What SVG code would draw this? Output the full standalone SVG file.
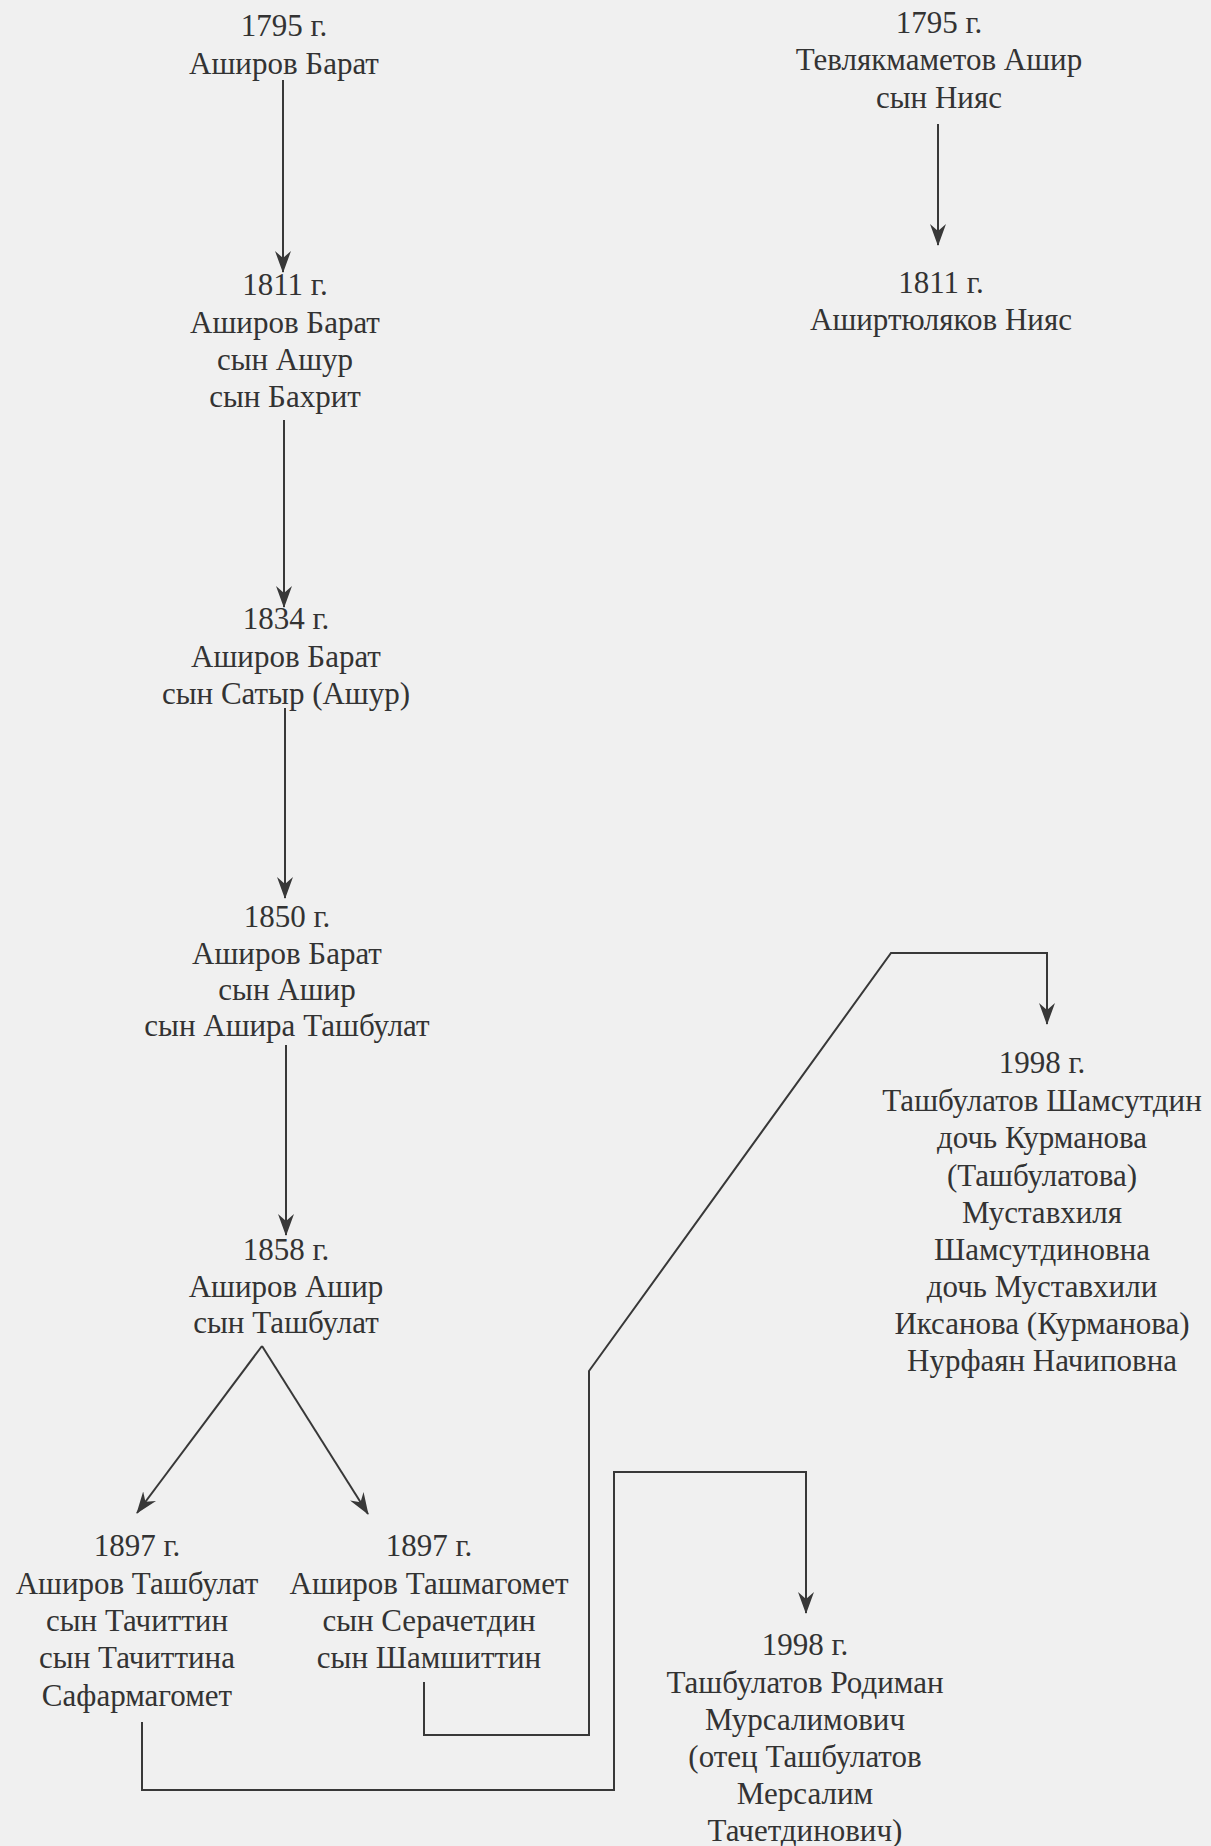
<svg xmlns="http://www.w3.org/2000/svg" width="1211" height="1846" viewBox="0 0 1211 1846">
<style>
text{font-family:"Liberation Serif","Times New Roman","DejaVu Serif",serif;font-size:31px;fill:#333;text-anchor:middle}
.c{fill:none;stroke:#383838;stroke-width:2}
</style>
<defs>
<marker id="ah" markerUnits="userSpaceOnUse" markerWidth="22" markerHeight="16" refX="21" refY="8" orient="auto">
<path d="M0,0 L22,8 L0,16 L7,8 Z" fill="#383838"/>
</marker>
</defs>
<rect width="1211" height="1846" fill="#f0f0f0"/>
<g id="connectors">
<path class="c" d="M283,80 V272" marker-end="url(#ah)"/>
<path class="c" d="M284,420 V607" marker-end="url(#ah)"/>
<path class="c" d="M285,708 V898" marker-end="url(#ah)"/>
<path class="c" d="M286,1045 V1235" marker-end="url(#ah)"/>
<path class="c" d="M262,1346 L137,1513" marker-end="url(#ah)"/>
<path class="c" d="M262,1346 L368,1514" marker-end="url(#ah)"/>
<path class="c" d="M938,124 V245" marker-end="url(#ah)"/>
<path class="c" d="M142,1722 V1790 H614 V1472 H806 V1613" marker-end="url(#ah)"/>
<path class="c" d="M424,1682 V1735 H589 V1371 L891,953 H1047 V1024" marker-end="url(#ah)"/>
</g>
<g id="n1795a"><text x="284" y="36">1795 г.</text><text x="284" y="74">Аширов Барат</text></g>
<g id="n1811a"><text x="285" y="295">1811 г.</text><text x="285" y="333">Аширов Барат</text><text x="285" y="370">сын Ашур</text><text x="285" y="407">сын Бахрит</text></g>
<g id="n1834"><text x="286" y="629">1834 г.</text><text x="286" y="667">Аширов Барат</text><text x="286" y="704">сын Сатыр (Ашур)</text></g>
<g id="n1850"><text x="287" y="927">1850 г.</text><text x="287" y="964">Аширов Барат</text><text x="287" y="1000">сын Ашир</text><text x="287" y="1036">сын Ашира Ташбулат</text></g>
<g id="n1858"><text x="286" y="1260">1858 г.</text><text x="286" y="1297">Аширов Ашир</text><text x="286" y="1333">сын Ташбулат</text></g>
<g id="n1897a"><text x="137" y="1556">1897 г.</text><text x="137" y="1594">Аширов Ташбулат</text><text x="137" y="1631">сын Тачиттин</text><text x="137" y="1668">сын Тачиттина</text><text x="137" y="1706">Сафармагомет</text></g>
<g id="n1897b"><text x="429" y="1556">1897 г.</text><text x="429" y="1594">Аширов Ташмагомет</text><text x="429" y="1631">сын Серачетдин</text><text x="429" y="1668">сын Шамшиттин</text></g>
<g id="n1795b"><text x="939" y="33">1795 г.</text><text x="939" y="70">Тевлякмаметов Ашир</text><text x="939" y="108">сын Нияс</text></g>
<g id="n1811b"><text x="941" y="293">1811 г.</text><text x="941" y="330">Аширтюляков Нияс</text></g>
<g id="n1998a"><text x="1042" y="1073">1998 г.</text><text x="1042" y="1111">Ташбулатов Шамсутдин</text><text x="1042" y="1148">дочь Курманова</text><text x="1042" y="1186">(Ташбулатова)</text><text x="1042" y="1223">Муставхиля</text><text x="1042" y="1260">Шамсутдиновна</text><text x="1042" y="1297">дочь Муставхили</text><text x="1042" y="1334">Иксанова (Курманова)</text><text x="1042" y="1371">Нурфаян Начиповна</text></g>
<g id="n1998b"><text x="805" y="1655">1998 г.</text><text x="805" y="1693">Ташбулатов Родиман</text><text x="805" y="1730">Мурсалимович</text><text x="805" y="1767">(отец Ташбулатов</text><text x="805" y="1804">Мерсалим</text><text x="805" y="1841">Тачетдинович)</text></g>
</svg>
